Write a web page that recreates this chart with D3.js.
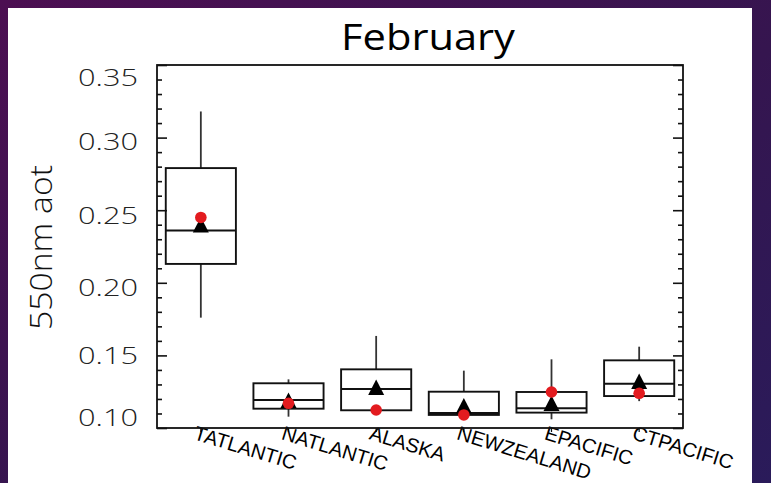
<!DOCTYPE html>
<html>
<head>
<meta charset="utf-8">
<script src="https://cdn.jsdelivr.net/npm/d3@7"></script>
<style>
  html, body { margin: 0; padding: 0; }
  body { width: 771px; height: 483px; overflow: hidden; }
</style>
</head>
<body>
<svg id="chart" width="771" height="483"></svg>
<script>
// ---- data ----
const categories  = ["TATLANTIC", "NATLANTIC", "ALASKA", "NEWZEALAND", "EPACIFIC", "CTPACIFIC"];
const whiskerHigh = [0.318, 0.1335, 0.1634, 0.1395, 0.1473, 0.156];
const boxHigh     = [0.279, 0.1308, 0.1404, 0.125, 0.1248, 0.1466];
const medians     = [0.236, 0.1193, 0.1269, 0.1103, 0.1136, 0.1305];
const boxLow      = [0.213, 0.1133, 0.1122, 0.109, 0.1106, 0.122];
const whiskerLow  = [0.176, 0.1078, 0.1122, 0.1065, 0.106, 0.1185];
const triangleVals = [0.240, 0.1191, 0.1281, 0.1153, 0.1171, 0.1322];
const redDotVals   = [0.245, 0.117, 0.1124, 0.109, 0.1248, 0.1239];
const yMajorTicks = [0.10, 0.15, 0.20, 0.25, 0.30, 0.35];
const yMinorTicks = d3.range(10, 36).map(d => d / 100).filter(v => !yMajorTicks.some(m => Math.abs(m - v) < 1e-9));
const titleText = "February";
const yTitle = "550nm aot";

const svg = d3.select("#chart");

// background: purple slide frame + white panel
const defs = svg.append("defs");
const grad = defs.append("linearGradient").attr("id", "bg")
  .attr("x1", "0%").attr("y1", "0%").attr("x2", "100%").attr("y2", "100%");
grad.append("stop").attr("offset", "0%").attr("stop-color", "#4c0f52");
grad.append("stop").attr("offset", "55%").attr("stop-color", "#35154f");
grad.append("stop").attr("offset", "100%").attr("stop-color", "#2a1b5a");
svg.append("rect").attr("width", 771).attr("height", 483).attr("fill", "url(#bg)");
svg.append("rect").attr("x", 8).attr("y", 8).attr("width", 744).attr("height", 475).attr("fill", "#ffffff");

const L = 157, R = 683, T = 65, B = 428;
const x = d3.scaleBand().domain(categories).range([L, R]).padding(0);
const y = d3.scaleLinear().domain([0.10, 0.35]).range([B, T]);
const bw = x.bandwidth();
const boxW = bw * 0.8;

// title
svg.append("text")
  .attr("x", 428).attr("y", 50)
  .attr("text-anchor", "middle")
  .attr("font-family", "'Open Sans', Lato, sans-serif")
  .attr("font-size", 37)
  .attr("textLength", 174).attr("lengthAdjust", "spacingAndGlyphs")
  .attr("fill", "#000")
  .text(titleText);

// y axis title
svg.append("text")
  .attr("transform", "translate(52,247.5) rotate(-90)")
  .attr("text-anchor", "middle")
  .attr("font-family", "'Open Sans', 'DejaVu Sans', sans-serif")
  .attr("font-weight", 300)
  .attr("font-size", 32)
  .attr("textLength", 165).attr("lengthAdjust", "spacingAndGlyphs")
  .attr("fill", "#111")
  .text(yTitle);

// axes
const labelDy = {"0.10": -3, "0.15": 7.7, "0.20": 12.7, "0.25": 13.3, "0.30": 12, "0.35": 20};
const fmt = d3.format(".2f");

const leftMajor = svg.append("g").attr("transform", `translate(${L},0)`)
  .call(d3.axisLeft(y).tickValues(yMajorTicks).tickSizeInner(-10).tickSizeOuter(0).tickPadding(19).tickFormat(fmt));
leftMajor.select(".domain").remove();
leftMajor.selectAll("line").attr("stroke", "#111").attr("stroke-width", 1.6);
leftMajor.selectAll("text")
  .attr("dy", null)
  .attr("y", d => labelDy[fmt(d)])
  .attr("font-family", "'Open Sans', 'DejaVu Sans', sans-serif")
  .attr("font-weight", 300)
  .attr("font-size", 23.5)
  .attr("fill", "#222")
  .attr("textLength", 60).attr("lengthAdjust", "spacingAndGlyphs");

const leftMinor = svg.append("g").attr("transform", `translate(${L},0)`)
  .call(d3.axisLeft(y).tickValues(yMinorTicks).tickSizeInner(-5).tickSizeOuter(0).tickFormat(""));
leftMinor.select(".domain").remove();
leftMinor.selectAll("line").attr("stroke", "#111").attr("stroke-width", 1.6);

const rightMajor = svg.append("g").attr("transform", `translate(${R},0)`)
  .call(d3.axisRight(y).tickValues(yMajorTicks).tickSizeInner(-10).tickSizeOuter(0).tickFormat(""));
rightMajor.select(".domain").remove();
rightMajor.selectAll("line").attr("stroke", "#111").attr("stroke-width", 1.6);

const rightMinor = svg.append("g").attr("transform", `translate(${R},0)`)
  .call(d3.axisRight(y).tickValues(yMinorTicks).tickSizeInner(-5).tickSizeOuter(0).tickFormat(""));
rightMinor.select(".domain").remove();
rightMinor.selectAll("line").attr("stroke", "#111").attr("stroke-width", 1.6);

const bottom = svg.append("g").attr("transform", `translate(0,${B})`)
  .call(d3.axisBottom(x).tickSizeInner(4).tickSizeOuter(0));
bottom.select(".domain").remove();
bottom.selectAll("line").attr("stroke", "#111").attr("stroke-width", 1.2);
bottom.selectAll("text")
  .attr("dy", null)
  .attr("x", -8).attr("y", 11)
  .attr("text-anchor", "start")
  .attr("transform", "rotate(17,-8,11)")
  .attr("font-family", "'Liberation Sans', Arial, sans-serif")
  .attr("font-size", 20)
  .attr("fill", "#000");

// frame
svg.append("rect")
  .attr("x", L).attr("y", T).attr("width", R - L).attr("height", B - T)
  .attr("fill", "none").attr("stroke", "#111").attr("stroke-width", 1.8);

// boxes
const idx = d3.range(categories.length);
const cx = i => x(categories[i]) + bw / 2;
const g = svg.append("g");

g.selectAll(".wu").data(idx).join("line")
  .attr("x1", cx).attr("x2", cx)
  .attr("y1", i => y(boxHigh[i])).attr("y2", i => y(whiskerHigh[i]))
  .attr("stroke", "#333").attr("stroke-width", 1.8);
g.selectAll(".wl").data(idx).join("line")
  .attr("x1", cx).attr("x2", cx)
  .attr("y1", i => y(boxLow[i])).attr("y2", i => y(whiskerLow[i]))
  .attr("stroke", "#333").attr("stroke-width", 1.8);
g.selectAll(".box").data(idx).join("rect")
  .attr("x", i => cx(i) - boxW / 2).attr("width", boxW)
  .attr("y", i => y(boxHigh[i])).attr("height", i => y(boxLow[i]) - y(boxHigh[i]))
  .attr("fill", "none").attr("stroke", "#111").attr("stroke-width", 1.9);
g.selectAll(".med").data(idx).join("line")
  .attr("x1", i => cx(i) - boxW / 2).attr("x2", i => cx(i) + boxW / 2)
  .attr("y1", i => y(medians[i])).attr("y2", i => y(medians[i]))
  .attr("stroke", "#111").attr("stroke-width", 1.9);

// triangles
const th = 15.5, tw = 16;
g.selectAll(".tri").data(idx).join("path")
  .attr("d", i => {
    const px = cx(i), py = y(triangleVals[i]);
    return `M${px},${py - th / 2}L${px + tw / 2},${py + th / 2}L${px - tw / 2},${py + th / 2}Z`;
  })
  .attr("fill", "#000");

// red dots
g.selectAll(".dot").data(idx).join("circle")
  .attr("cx", cx).attr("cy", i => y(redDotVals[i])).attr("r", 5.8)
  .attr("fill", "#e31b1f");
</script>
</body>
</html>
